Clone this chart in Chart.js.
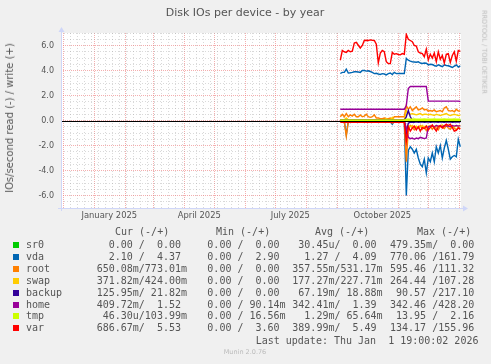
<!DOCTYPE html>
<html><head><meta charset="utf-8">
<script src="https://cdn.jsdelivr.net/npm/chart.js@4.4.1/dist/chart.umd.min.js"></script>
<style>
html,body{margin:0;padding:0;background:#F0F0F0;}
#wrap{position:relative;width:491px;height:364px;overflow:hidden;background:#F0F0F0;}
#c{position:absolute;left:0;top:0;}
.t{position:absolute;white-space:pre;color:#555;font-family:'DejaVu Sans',sans-serif;line-height:1;}
.m{position:absolute;white-space:pre;color:#555;font-family:'DejaVu Sans Mono',monospace;font-size:10px;line-height:10px;}
.sq{position:absolute;width:6px;height:6px;}
</style></head>
<body><div id="wrap"><canvas id="c" width="491" height="364"></canvas></div>
<script>
// ---- time axis (days counted from 2024-12-01) ----
const epoch = '2024-12-01';
const seriesStart = '2025-09-04';
const seriesStepDays = 2;
const monthStarts = ['2024-12-01','2025-01-01','2025-02-01','2025-03-01','2025-04-01','2025-05-01','2025-06-01','2025-07-01','2025-08-01','2025-09-01','2025-10-01','2025-11-01','2025-12-01','2026-01-01'];
const xLabelDates = ['2025-01-16','2025-04-16','2025-07-16','2025-10-16'];
const xTickLabels = ['January 2025','April 2025','July 2025','October 2025'];
const yTickValues = [-6,-4,-2,0,2,4,6];

// ---- series (IOs/second; reads negative, writes positive) ----
const sr0Read   = [0,0,0,0,0,0,0,0,0,0,0,0,0,0,0,0,0,0,0,0,0,0,0,0,0,0,0,0,0,0,0,0,0,0,0,0,0,0,0,0,0,0,0,0,0,0,0,0,0,0,0,0,0,0,0,0,0,0,0,0,0];
const sr0Write  = [0,0,0,0,0,0,0,0,0,0,0,0,0,0,0,0,0,0,0,0,0,0,0,0,0,0,0,0,0,0,0,0,0,0,0,0,0,0,0,0,0,0,0,0,0,0,0,0,0,0,0,0,0,0,0,0,0,0,0,0,0];
const vdaRead   = [-0.05,-0.05,-0.05,-1.15,-0.05,-0.05,-0.05,-0.05,-0.05,-0.05,-0.05,-0.05,-0.05,-0.05,-0.05,-0.05,-0.05,-0.05,-0.05,-0.05,-0.05,-0.05,-0.05,-0.05,-0.05,-0.1,-0.3,-0.05,-0.05,-0.05,-0.05,-0.05,-0.05,-6.0,-2.4,-2.1,-2.3,-2.6,-2.3,-3.0,-3.5,-3.7,-3.1,-4.2,-3.0,-3.3,-2.6,-3.3,-2.1,-2.6,-2.0,-3.0,-2.2,-1.6,-2.3,-3.1,-2.9,-2.8,-2.9,-1.5,-2.1];
const vdaWrite  = [3.76,3.85,3.85,4.1,3.8,3.82,3.85,3.9,3.9,3.88,3.85,4.0,4.0,3.95,3.98,3.92,3.85,3.75,3.78,3.72,3.68,3.75,3.72,3.65,3.75,3.8,3.68,3.85,3.75,3.76,3.76,3.76,3.76,4.96,4.82,4.75,4.7,4.68,4.66,4.7,4.6,4.56,4.6,4.58,4.45,4.5,4.48,4.4,4.34,4.45,4.38,4.3,4.45,4.4,4.38,4.32,4.24,4.35,4.45,4.28,4.37];
const rootRead  = [-0.08,-0.08,-0.1,-1.25,-0.08,-0.08,-0.1,-0.08,-0.08,-0.08,-0.1,-0.08,-0.08,-0.08,-0.1,-0.08,-0.08,-0.08,-0.1,-0.08,-0.08,-0.08,-0.1,-0.08,-0.08,-0.08,-0.2,-0.08,-0.08,-0.08,-0.08,-0.08,-0.08,-3.3,-0.7,-0.4,-0.55,-0.75,-0.5,-0.6,-0.4,-0.7,-0.5,-0.8,-0.55,-0.45,-0.7,-0.5,-0.6,-0.75,-0.45,-0.55,-0.65,-0.4,-0.6,-0.7,-0.5,-0.6,-0.75,-0.55,-0.65];
const rootWrite = [0.3,0.5,0.3,0.55,0.3,0.45,0.35,0.5,0.3,0.3,0.45,0.3,0.35,0.5,0.3,0.25,0.3,0.45,0.2,0.2,0.15,0.15,0.2,0.15,0.15,0.2,0.1,0.3,0.3,0.3,0.3,0.3,0.3,1.2,0.9,1.1,0.8,0.95,1.1,0.85,0.9,1.0,0.85,0.9,0.75,0.8,0.75,0.85,0.7,0.75,0.8,0.7,1.0,1.1,0.8,0.75,0.8,0.7,0.9,0.75,0.77];
const swapRead  = [0,0,0,-0.02,0,0,0,0,0,0,0,0,0,0,0,0,0,0,0,0,0,0,0,0,0,0,0,0,0,0,0,0,0,-1.0,-0.45,-0.5,-0.4,-0.55,-0.45,-0.6,-0.5,-0.4,-0.55,-0.45,-0.5,-0.4,-0.45,-0.55,-0.4,-0.5,-0.45,-0.35,-0.5,-0.45,-0.4,-0.5,-0.45,-0.55,-0.4,-0.45,-0.37];
const swapWrite = [0.05,0.05,0.05,0.2,0.05,0.05,0.05,0.05,0.05,0.05,0.05,0.05,0.05,0.05,0.05,0.05,0.05,0.05,0.05,0.05,0.05,0.05,0.05,0.15,0.05,0.05,0.25,0.05,0.05,0.05,0.05,0.05,0.05,0.8,0.55,0.5,0.55,0.5,0.45,0.5,0.55,0.45,0.5,0.5,0.45,0.5,0.45,0.4,0.5,0.45,0.4,0.45,0.5,0.55,0.45,0.4,0.45,0.5,0.45,0.4,0.42];
const backupRead  = [0,0,0,0,0,0,0,0,0,0,0,0,0,0,0,0,0,0,0,0,0,0,0,0,0,0,0,0,0,0,0,0,0,-1.0,-0.2,-0.15,-0.12,-0.15,-0.1,-0.15,-0.12,-0.1,-0.15,-0.12,-0.1,-0.15,-0.12,-0.1,-0.12,-0.15,-0.1,-0.12,-0.15,-0.1,-0.12,-0.1,-0.15,-0.12,-0.1,-0.12,-0.13];
const backupWrite = [0.02,0.02,0.02,0.02,0.02,0.02,0.02,0.02,0.02,0.02,0.02,0.02,0.02,0.02,0.02,0.02,0.02,0.02,0.02,0.02,0.02,0.02,0.02,0.02,0.02,0.02,0.02,0.02,0.02,0.02,0.02,0.02,0.02,0.3,0.8,0.3,0.03,0.03,0.03,0.03,0.03,0.03,0.03,0.03,0.03,0.03,0.03,0.03,0.03,0.03,0.03,0.03,0.03,0.03,0.03,0.03,0.03,0.03,0.03,0.03,0.02];
const homeRead  = [-0.02,-0.02,-0.02,-0.02,-0.02,-0.02,-0.02,-0.02,-0.02,-0.02,-0.02,-0.02,-0.02,-0.02,-0.02,-0.02,-0.02,-0.02,-0.02,-0.02,-0.02,-0.02,-0.02,-0.02,-0.02,-0.02,-0.02,-0.02,-0.02,-0.02,-0.02,-0.02,-0.02,-0.6,-1.35,-1.45,-1.4,-1.5,-1.4,-1.45,-1.35,-1.4,-1.45,-1.4,-0.5,-0.45,-0.45,-0.5,-0.4,-0.45,-0.45,-0.5,-0.4,-0.45,-0.45,-0.5,-0.4,-0.45,-0.4,-0.45,-0.41];
const homeWrite = [0.9,0.9,0.9,0.9,0.9,0.9,0.9,0.9,0.9,0.9,0.9,0.9,0.9,0.9,0.9,0.9,0.9,0.9,0.9,0.9,0.9,0.9,0.9,0.9,0.9,0.9,0.9,0.9,0.9,0.9,0.9,0.9,0.9,1.2,2.55,2.72,2.72,2.72,2.72,2.72,2.72,2.72,2.72,2.72,1.55,1.55,1.55,1.55,1.55,1.55,1.55,1.55,1.55,1.55,1.55,1.55,1.55,1.55,1.55,1.55,1.52];
const tmpRead   = [0,0,0,0,0,0,0,0,0,0,0,0,0,0,0,0,0,0,0,0,0,0,0,0,0,0,0,0,0,0,0,0,0,0,0,0,0,0,0,0,0,0,0,0,0,0,0,0,0,0,0,0,0,0,0,0,0,0,0,0,0];
const tmpWrite  = [0.02,0.02,0.02,0.02,0.02,0.02,0.02,0.02,0.02,0.02,0.02,0.02,0.02,0.02,0.02,0.02,0.02,0.02,0.02,0.02,0.02,0.02,0.02,0.02,0.02,0.02,0.02,0.02,0.02,0.02,0.02,0.02,0.02,0.1,0.1,0.11,0.1,0.12,0.1,0.11,0.1,0.1,0.12,0.1,0.11,0.1,0.1,0.12,0.1,0.11,0.1,0.1,0.12,0.1,0.11,0.1,0.1,0.12,0.1,0.11,0.1];
const varRead   = [-0.15,-0.15,-0.12,-0.15,-0.15,-0.12,-0.15,-0.15,-0.15,-0.12,-0.15,-0.15,-0.15,-0.12,-0.15,-0.15,-0.15,-0.12,-0.15,-0.15,-0.15,-0.12,-0.15,-0.15,-0.15,-0.12,-0.15,-0.15,-0.15,-0.12,-0.15,-0.15,-0.15,-1.7,-0.5,-0.85,-0.6,-0.45,-0.75,-0.5,-0.85,-0.55,-0.65,-0.45,-0.75,-0.55,-0.35,-0.6,-0.85,-0.5,-0.4,-0.6,-0.45,-0.3,-0.4,-0.3,-0.55,-0.85,-0.8,-0.6,-0.69];
const varWrite  = [4.82,5.6,5.5,5.45,5.6,5.5,5.55,6.2,6.25,6.02,5.8,6.0,6.4,6.42,6.4,6.45,6.42,6.4,6.1,4.6,5.4,5.6,5.5,4.7,4.55,4.55,5.45,5.3,5.35,5.28,5.25,5.35,5.3,6.9,6.5,6.4,6.3,6.0,5.95,5.5,5.4,5.35,5.1,5.7,4.85,5.3,5.0,5.4,4.7,5.5,4.9,5.2,4.6,5.3,5.35,4.65,5.2,5.5,4.75,5.6,5.53];

// ---- legend table ----
const deviceNames  = ['sr0','vda','root','swap','backup','home','tmp','var'];
const deviceColors = ['#00CC00','#0066B3','#FF8000','#FFCC00','#330099','#990099','#CCFF00','#FF0000'];
const colHeaders = ['Cur (-/+)','Min (-/+)','Avg (-/+)','Max (-/+)'];
const curText = ['  0.00 /  0.00','  2.10 /  4.37','650.08m/773.01m','371.82m/424.00m','125.95m/ 21.82m','409.72m/  1.52',' 46.30u/103.99m','686.67m/  5.53'];
const minText = ['  0.00 /  0.00','  0.00 /  2.90','  0.00 /  0.00','  0.00 /  0.00','  0.00 /  0.00','  0.00 / 90.14m','  0.00 / 16.56m','  0.00 /  3.60'];
const avgText = [' 30.45u/  0.00','  1.27 /  4.09','357.55m/531.17m','177.27m/227.71m',' 67.19m/ 18.88m','342.41m/  1.39','  1.29m/ 65.64m','389.99m/  5.49'];
const maxText = ['479.35m/  0.00','770.06 /161.79','595.46 /111.32','264.44 /107.28',' 90.57 /217.10','342.46 /428.20',' 13.95 /  2.16','134.17 /155.96'];
const lastUpdate = 'Last update: Thu Jan  1 19:00:02 2026';

// ---------------------------------------------------------------
const DAY = 86400000;
function dayOf(s){ const [y,m,d]=s.split('-').map(Number); const [ey,em,ed]=epoch.split('-').map(Number); return (Date.UTC(y,m-1,d)-Date.UTC(ey,em-1,ed))/DAY; }
const startDay = dayOf(seriesStart);
const seriesDays = varWrite.map((_, i) => startDay + i*seriesStepDays);
const monthDays = monthStarts.map(dayOf);
const labelDays = xLabelDates.map(dayOf);
const weekDays = [];
for (let d = 0; d <= 397; d += 7) if (!monthDays.includes(d)) weekDays.push(d);
const yMinorTicks = [];
for (let v = -7; v <= 7.001; v += 0.5) if (Math.abs(v % 2) > 0.01) yMinorTicks.push(v);

const seriesByDevice = [
  [sr0Read, sr0Write],[vdaRead, vdaWrite],[rootRead, rootWrite],[swapRead, swapWrite],
  [backupRead, backupWrite],[homeRead, homeWrite],[tmpRead, tmpWrite],[varRead, varWrite]
];
const datasets = [];
seriesByDevice.forEach((pair, k) => {
  pair.forEach((arr, j) => {
    datasets.push({
      label: deviceNames[k] + (j ? ' write' : ' read'),
      data: arr.map((v, i) => ({x: seriesDays[i], y: v})),
      borderColor: deviceColors[k], backgroundColor: deviceColors[k],
      borderWidth: 1.4, pointRadius: 0, tension: 0, fill: false,
      xAxisID: 'x', yAxisID: 'y'
    });
  });
});
datasets.forEach((d, i) => d.order = datasets.length - i);

const XMIN = -2.3, XMAX = 397.7, YMIN = -7, YMAX = 7;
const RED = 'rgba(235,110,110,0.55)', GRAY = 'rgba(160,160,160,0.4)', AXIS = '#CFD6F8';
const tickFont = {family: 'DejaVu Sans', size: 8};

const decor = {
  id: 'decor',
  beforeDraw(chart){
    const {ctx, chartArea: a} = chart;
    ctx.save(); ctx.fillStyle = '#FFFFFF';
    ctx.fillRect(a.left, a.top, a.right - a.left, a.bottom - a.top); ctx.restore();
  },
  afterDatasetsDraw(chart){
    const {ctx, chartArea: a, scales} = chart;
    const y0 = Math.round(scales.y.getPixelForValue(0)) + 0.5;
    ctx.save();
    ctx.strokeStyle = '#000'; ctx.lineWidth = 1;
    ctx.beginPath(); ctx.moveTo(a.left, y0); ctx.lineTo(a.right, y0); ctx.stroke();
    // axes with arrows
    ctx.strokeStyle = AXIS; ctx.fillStyle = AXIS; ctx.lineWidth = 1;
    const lx = Math.round(a.left) + 0.5, by = Math.round(a.bottom) + 0.5;
    ctx.beginPath(); ctx.moveTo(lx, a.bottom + 3); ctx.lineTo(lx, a.top - 2); ctx.stroke();
    ctx.beginPath(); ctx.moveTo(a.left - 3, by); ctx.lineTo(a.right + 2, by); ctx.stroke();
    ctx.beginPath(); ctx.moveTo(lx - 3, a.top - 1); ctx.lineTo(lx + 3, a.top - 1); ctx.lineTo(lx, a.top - 6); ctx.closePath(); ctx.fill();
    ctx.beginPath(); ctx.moveTo(a.right + 2, by - 3); ctx.lineTo(a.right + 2, by + 3); ctx.lineTo(a.right + 7, by); ctx.closePath(); ctx.fill();
    ctx.restore();
  }
};

const fixedTicks = (arr) => (s) => { s.ticks = arr.map(v => ({value: v})); };

new Chart(document.getElementById('c'), {
  type: 'line',
  data: {datasets},
  plugins: [decor],
  options: {
    responsive: false, animation: false, devicePixelRatio: 1,
    layout: {padding: {top: 33, right: 30, bottom: 0, left: 0}},
    plugins: {legend: {display: false}, tooltip: {enabled: false}, title: {display: false}},
    scales: {
      x: {
        type: 'linear', position: 'bottom', min: XMIN, max: XMAX,
        afterBuildTicks: fixedTicks(labelDays),
        afterFit: (s) => { s.height = 156; },
        grid: {display: false, drawTicks: false}, border: {display: false},
        ticks: {font: {family: 'DejaVu Sans', size: 8.4}, color: '#555', padding: 3, maxRotation: 0, autoSkip: false,
                callback: (v, i) => xTickLabels[i]}
      },
      xMonth: {
        type: 'linear', position: 'bottom', min: XMIN, max: XMAX,
        afterBuildTicks: fixedTicks(monthDays),
        afterFit: (s) => { s.height = 0; },
        grid: {color: RED, lineWidth: 1, drawTicks: false}, border: {display: false, dash: [1, 1]},
        ticks: {display: false}
      },
      xWeek: {
        type: 'linear', position: 'bottom', min: XMIN, max: XMAX,
        afterBuildTicks: fixedTicks(weekDays),
        afterFit: (s) => { s.height = 0; },
        grid: {color: GRAY, lineWidth: 1, drawTicks: false}, border: {display: false, dash: [1, 2]},
        ticks: {display: false}
      },
      y: {
        type: 'linear', position: 'left', min: YMIN, max: YMAX,
        afterBuildTicks: fixedTicks(yTickValues),
        afterFit: (s) => { s.width = 61; },
        grid: {color: RED, lineWidth: 1, drawTicks: false}, border: {display: false, dash: [1, 1]},
        ticks: {font: tickFont, color: '#555', padding: 7, callback: (v) => v.toFixed(1)}
      },
      yMinor: {
        type: 'linear', position: 'left', min: YMIN, max: YMAX,
        afterBuildTicks: fixedTicks(yMinorTicks),
        afterFit: (s) => { s.width = 0; },
        grid: {color: GRAY, lineWidth: 1, drawTicks: false}, border: {display: false, dash: [1, 2]},
        ticks: {display: false}
      }
    }
  }
});

// ---- HTML text ----
const wrap = document.getElementById('wrap');
function addText(cls, txt, left, top, extra){
  const el = document.createElement('div'); el.className = cls; el.textContent = txt;
  el.style.left = left + 'px'; el.style.top = top + 'px';
  if (extra) Object.assign(el.style, extra);
  wrap.appendChild(el); return el;
}
addText('t', 'Disk IOs per device - by year', 245, 12, {fontSize: '11px', transform: 'translate(-50%,-50%)'});
addText('t', 'IOs/second read (-) / write (+)', 10, 118, {fontSize: '10px', transform: 'translate(-50%,-50%) rotate(-90deg)'});
addText('t', 'RRDTOOL / TOBI OETIKER', 484, 52, {fontSize: '6.5px', color: '#bbb', transform: 'translate(-50%,-50%) rotate(90deg)'});

const colX = [96.7, 195.3, 292.3, 390];
const headX = [115, 216, 315, 417];
const rowY0 = 245, rowStep = 11.9;
colHeaders.forEach((h, i) => addText('m', h, headX[i], 232.3 - 5));
const cols = [curText, minText, avgText, maxText];
deviceNames.forEach((n, r) => {
  const cy = rowY0 + r*rowStep;
  const sq = document.createElement('div'); sq.className = 'sq';
  sq.style.left = '13px'; sq.style.top = (cy - 3) + 'px'; sq.style.background = deviceColors[r];
  wrap.appendChild(sq);
  addText('m', n, 26, cy - 5);
  cols.forEach((c, ci) => addText('m', c[r], colX[ci], cy - 5));
});
addText('m', lastUpdate, 255.7, 341 - 5);
addText('t', 'Munin 2.0.76', 245, 352.3, {fontSize: '6.5px', color: '#bbb', transform: 'translate(-50%,-50%)'});
</script>
</body></html>
